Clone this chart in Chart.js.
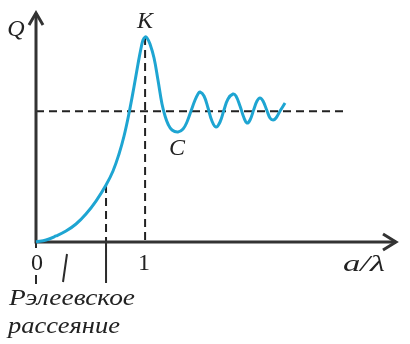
<!DOCTYPE html>
<html>
<head>
<meta charset="utf-8">
<script src="https://cdn.jsdelivr.net/npm/chart.js@4/dist/chart.umd.min.js"></script>
<style>
html,body{margin:0;padding:0;background:#fff;}
#c{display:block;}
</style>
</head>
<body>
<canvas id="c" width="410" height="344"></canvas>
<script>
// a/λ values
const xValues = [0, 0.092, 0.183, 0.275, 0.367, 0.458, 0.550, 0.642, 0.706, 0.761, 0.807, 0.853, 0.898, 0.935, 0.963, 0.981, 1.000, 1.018, 1.045, 1.082, 1.118, 1.155, 1.183, 1.210, 1.247, 1.302, 1.348, 1.384, 1.421, 1.458, 1.485, 1.503, 1.540, 1.577, 1.613, 1.650, 1.687, 1.723, 1.760, 1.806, 1.833, 1.870, 1.907, 1.934, 1.962, 1.998, 2.026, 2.053, 2.081, 2.118, 2.145, 2.173, 2.200, 2.237, 2.283];
// Q values
const qValues = [0, 0.031, 0.092, 0.168, 0.275, 0.428, 0.626, 0.871, 1.085, 1.345, 1.620, 1.971, 2.369, 2.720, 2.965, 3.087, 3.133, 3.118, 3.026, 2.812, 2.476, 2.109, 1.926, 1.804, 1.712, 1.681, 1.727, 1.834, 2.002, 2.170, 2.262, 2.292, 2.231, 2.048, 1.849, 1.757, 1.834, 2.017, 2.185, 2.262, 2.231, 2.078, 1.895, 1.819, 1.865, 2.033, 2.155, 2.201, 2.155, 2.002, 1.895, 1.865, 1.895, 2.002, 2.124];
const asymptoteQ = 2;
const asymptoteEndX = 2.83;
const peakX = 1;
const peakQ = 3.133;
const rayleighX = 0.642;
const rayleighQ = 0.871;
const xTickLabels = [{v: 0, t: '0'}, {v: 1, t: '1'}];
const axisTitles = {y: 'Q', x: 'a/λ'};
const pointLabels = [{x: 1, q: 3.133, t: 'K'}, {x: 1.302, q: 1.681, t: 'C'}];
const rayleighLines = ['Рэлеевское', 'рассеяние'];

const INK = '#2b2b2b';
const CURVE = '#1ea5d2';
const SERIF = '"Liberation Serif", "Times New Roman", serif';

function stretchedText(ctx, t, cx, cy, w) {
  const m = ctx.measureText(t).width;
  ctx.save();
  ctx.translate(cx, cy);
  ctx.scale(w / m, 1);
  ctx.fillText(t, 0, 0);
  ctx.restore();
}

const drawPlugin = {
  id: 'drawPlugin',
  beforeDatasetsDraw(chart) {
    const ctx = chart.ctx;
    const xs = chart.scales.x, ys = chart.scales.y;
    const X = v => xs.getPixelForValue(v), Y = v => ys.getPixelForValue(v);
    const x0 = X(0), y0 = Y(0);
    ctx.save();
    ctx.strokeStyle = '#222';
    ctx.lineWidth = 2;
    ctx.setLineDash([8, 5]);
    ctx.beginPath();
    ctx.moveTo(x0, Y(asymptoteQ)); ctx.lineTo(X(asymptoteEndX), Y(asymptoteQ));
    ctx.stroke();
    ctx.beginPath();
    ctx.moveTo(X(peakX), Y(peakQ)); ctx.lineTo(X(peakX), y0);
    ctx.stroke();
    ctx.beginPath();
    ctx.moveTo(X(rayleighX), Y(rayleighQ)); ctx.lineTo(X(rayleighX), y0);
    ctx.stroke();
    ctx.setLineDash([]);
    ctx.lineWidth = 2;
    ctx.strokeStyle = INK;
    ctx.beginPath();
    ctx.moveTo(X(rayleighX), y0); ctx.lineTo(X(rayleighX), y0 + 41);
    ctx.moveTo(x0, y0); ctx.lineTo(x0, y0 + 6);
    ctx.moveTo(x0, y0 + 33); ctx.lineTo(x0, y0 + 42);
    ctx.moveTo(x0 + 31, y0 + 12); ctx.lineTo(x0 + 27, y0 + 40);
    ctx.stroke();
    ctx.lineWidth = 3;
    ctx.strokeStyle = '#333';
    ctx.lineCap = 'butt';
    const xr = chart.chartArea.right, yt = chart.chartArea.top;
    ctx.beginPath();
    ctx.moveTo(x0, y0 + 1.5); ctx.lineTo(x0, yt);
    ctx.moveTo(x0 - 1.5, y0); ctx.lineTo(xr, y0);
    ctx.stroke();
    ctx.lineJoin = 'miter';
    ctx.beginPath();
    ctx.moveTo(x0 - 7, yt + 12); ctx.lineTo(x0, yt); ctx.lineTo(x0 + 7, yt + 12);
    ctx.moveTo(xr - 13, y0 - 8); ctx.lineTo(xr, y0); ctx.lineTo(xr - 13, y0 + 8);
    ctx.stroke();
    ctx.restore();
  },
  afterDatasetsDraw(chart) {
    const ctx = chart.ctx;
    const xs = chart.scales.x, ys = chart.scales.y;
    const X = v => xs.getPixelForValue(v), Y = v => ys.getPixelForValue(v);
    const x0 = X(0), y0 = Y(0);
    ctx.save();
    ctx.fillStyle = '#222';
    ctx.textAlign = 'center';
    ctx.textBaseline = 'middle';
    ctx.font = '24px ' + SERIF;
    xTickLabels.forEach(l => ctx.fillText(l.t, X(l.v) + (l.v === 0 ? 1 : -1), y0 + 22));
    ctx.font = 'italic 24px ' + SERIF;
    ctx.fillText(axisTitles.y, x0 - 20, chart.chartArea.top + 17);
    stretchedText(ctx, axisTitles.x, chart.chartArea.right - 32, y0 + 23, 42);
    ctx.fillText(pointLabels[0].t, X(pointLabels[0].x), Y(pointLabels[0].q) - 15);
    ctx.fillText(pointLabels[1].t, X(pointLabels[1].x) - 1, Y(pointLabels[1].q) + 17);
    ctx.textAlign = 'left';
    ctx.textBaseline = 'alphabetic';
    ctx.font = 'italic 23px ' + SERIF;
    const targets = [{x: 9, y: y0 + 63, w: 126}, {x: 8, y: y0 + 91, w: 112}];
    rayleighLines.forEach((t, i) => stretchedText(ctx, t, targets[i].x, targets[i].y, targets[i].w));
    ctx.restore();
  }
};

new Chart(document.getElementById('c'), {
  type: 'line',
  data: {
    labels: xValues,
    datasets: [{
      data: xValues.map((x, i) => ({x: x, y: qValues[i]})),
      borderColor: CURVE,
      borderWidth: 3,
      pointRadius: 0,
      fill: false,
      tension: 0.4,
      clip: false
    }]
  },
  options: {
    responsive: false,
    animation: false,
    devicePixelRatio: 1,
    layout: {padding: {left: 36, right: 14, top: 13, bottom: 102}},
    plugins: {legend: {display: false}, tooltip: {enabled: false}},
    scales: {
      x: {type: 'linear', min: 0, max: 3.3, display: false},
      y: {type: 'linear', min: 0, max: 3.5, display: false}
    }
  },
  plugins: [drawPlugin]
});
</script>
</body>
</html>
